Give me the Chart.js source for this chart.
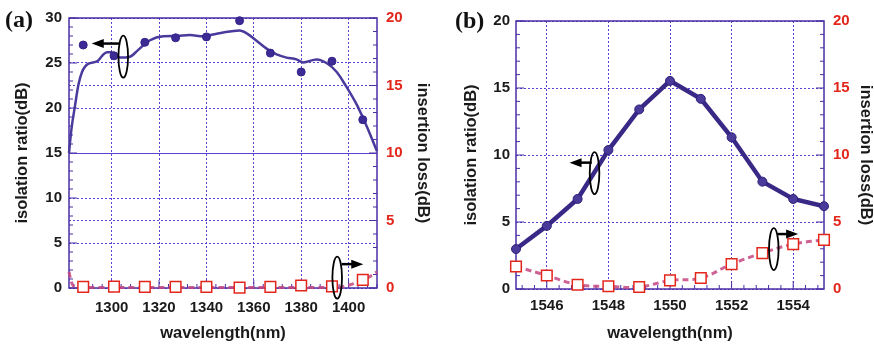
<!DOCTYPE html>
<html>
<head>
<meta charset="utf-8">
<script src="https://cdn.jsdelivr.net/npm/chart.js@4.4.1/dist/chart.umd.min.js"></script>
<style>
  body { margin: 0; background: #fff; width: 874px; height: 346px; position: relative; overflow: hidden; }
  .panel { position: absolute; top: 0; width: 437px; height: 346px; }
  .tag { position: absolute; font: bold 24px "Liberation Serif", "Times New Roman", serif; line-height: 24px; color: #111; }
</style>
</head>
<body>
<div class="panel" style="left:0"><canvas id="chartA" width="437" height="346"></canvas></div>
<div class="panel" style="left:437px"><canvas id="chartB" width="437" height="346"></canvas></div>
<div class="tag" style="left:5px;top:7px">(a)</div>
<div class="tag" style="left:455px;top:8px">(b)</div>
<script>
// ---- panel (a): 1300 nm band ----
const wlA = [1288, 1301, 1314, 1327, 1340, 1354, 1367, 1380, 1393, 1406];
const isoA = [27.0, 25.8, 27.3, 27.8, 27.9, 29.7, 26.1, 24.0, 25.2, 18.7];
const lossA = [0.08, 0.1, 0.08, 0.08, 0.08, 0.03, 0.08, 0.18, 0.12, 0.6];
// fitted isolation curve
const fitWlA = [1282, 1283, 1284.5, 1286, 1287.5, 1290, 1294, 1296, 1298, 1300, 1303.5, 1307.7, 1311, 1316, 1321.8, 1327.4,
  1333, 1338.6, 1344.3, 1350, 1354, 1357, 1361, 1365.4, 1369.6, 1373.8, 1378, 1380.9, 1386.5, 1390.7, 1395, 1399,
  1403.4, 1407.6, 1412];
const fitIsoA = [15, 17.6, 20.2, 22.6, 24.0, 24.9, 25.2, 25.8, 26.2, 26.2, 25.6, 25.7, 26.4, 27.5, 27.97, 28.0,
  28.1, 27.97, 28.26, 28.5, 28.6, 28.3, 27.5, 26.6, 25.95, 25.6, 25.4, 25.06, 25.4, 25.0, 24.0, 22.4,
  20.4, 18.0, 15.2];
// fitted insertion loss curve
const fitLossWlA = [1282, 1283, 1284.5, 1290, 1300, 1320, 1340, 1360, 1380, 1396, 1400, 1405, 1409, 1412];
const fitLossA = [1.2, 0.45, 0.1, 0.04, 0.03, 0.03, 0.03, 0.03, 0.04, 0.06, 0.2, 0.5, 0.85, 1.2];
const xTicksA = [1300, 1320, 1340, 1360, 1380, 1400];
const isoTicksA = [0, 5, 10, 15, 20, 25, 30];
const lossTicks = [0, 5, 10, 15, 20];

// ---- panel (b): 1550 nm band ----
const wlB = [1545, 1546, 1547, 1548, 1549, 1550, 1551, 1552, 1553, 1554, 1555];
const isoB = [2.98, 4.71, 6.72, 10.37, 13.4, 15.53, 14.19, 11.32, 8.01, 6.72, 6.18];
const lossB = [1.68, 1.01, 0.32, 0.2, 0.15, 0.64, 0.82, 1.86, 2.68, 3.35, 3.67];
const xTicksB = [1546, 1548, 1550, 1552, 1554];
const isoTicksB = [0, 5, 10, 15, 20];

// oval + arrow markers telling which axis a curve belongs to
const notesA = [
  { cx: 1304.9, cy: 25.7, tail: 1303.5, tip: 1291.6, ay: 27.16 },
  { cx: 1395.2, cy: 1.15, tail: 1397.1, tip: 1406.2, ay: 2.65 }
];
const notesB = [
  { cx: 1547.55, cy: 8.64, tail: 1547.46, tip: 1546.74, ay: 9.43 },
  { cx: 1553.37, cy: 2.98, tail: 1553.5, tip: 1554.16, ay: 4.1 }
];

const pts = (xs, ys) => xs.map((x, i) => ({ x: x, y: ys[i] }));

const FONT = '"Liberation Sans", Arial, sans-serif';
const PURPLE = '#4a2fa6';
const RED = '#e3261b';

const framePlugin = {
  id: 'frame',
  beforeDatasetsDraw(chart, args, opts) {
    const { ctx, chartArea: a, scales } = chart;
    ctx.save();
    ctx.strokeStyle = PURPLE;
    ctx.lineWidth = 1.5;
    ctx.strokeRect(a.left, a.top, a.right - a.left, a.bottom - a.top);
    // inward tick marks, minor and major
    ctx.lineWidth = 1;
    for (const id in opts.minor) {
      const s = scales[id], step = opts.minor[id];
      const major = s.ticks.map(t => t.value);
      const n0 = Math.ceil(s.min / step - 1e-6), n1 = Math.floor(s.max / step + 1e-6);
      for (let n = n0; n <= n1; n++) {
        const v = n * step;
        const len = major.some(m => Math.abs(m - v) < 1e-6) ? 8 : 4;
        const p = s.getPixelForValue(v);
        ctx.beginPath();
        if (s.position === 'bottom') { ctx.moveTo(p, a.bottom); ctx.lineTo(p, a.bottom - len); }
        else if (s.position === 'left') { ctx.moveTo(a.left, p); ctx.lineTo(a.left + len, p); }
        else { ctx.moveTo(a.right, p); ctx.lineTo(a.right - len, p); }
        ctx.stroke();
      }
    }
    ctx.restore();
  },
  afterDatasetsDraw(chart, args, opts) {
    const { ctx, scales: { x, y } } = chart;
    ctx.save();
    ctx.strokeStyle = '#000';
    ctx.fillStyle = '#000';
    for (const m of opts.notes) {
      const cx = x.getPixelForValue(m.cx), cy = y.getPixelForValue(m.cy);
      ctx.lineWidth = 1.8;
      ctx.beginPath();
      ctx.ellipse(cx, cy, 4.8, 21, 0, 0, Math.PI * 2);
      ctx.stroke();
      const x0 = x.getPixelForValue(m.tail), x1 = x.getPixelForValue(m.tip), ay = y.getPixelForValue(m.ay);
      const d = Math.sign(x1 - x0);
      ctx.lineWidth = 2.5;
      ctx.beginPath();
      ctx.moveTo(x0, ay);
      ctx.lineTo(x1 - d * 10, ay);
      ctx.stroke();
      ctx.beginPath();
      ctx.moveTo(x1, ay);
      ctx.lineTo(x1 - d * 12, ay - 4.5);
      ctx.lineTo(x1 - d * 12, ay + 4.5);
      ctx.closePath();
      ctx.fill();
    }
    ctx.restore();
  }
};

function setTicks(list) {
  return scale => { scale.ticks = list.map(v => ({ value: v })); };
}

function makeScales(c) {
  const tickFont = { family: FONT, size: 15, weight: 'bold' };
  const titleFont = { family: FONT, size: 16.5, weight: 'bold' };
  const grid = { color: '#5b3fd0', lineWidth: 1, drawTicks: false };
  return {
    x: {
      type: 'linear', position: 'bottom', min: c.xMin, max: c.xMax,
      afterBuildTicks: setTicks(c.xTicks),
      afterFit: s => { s.height = c.bottomH; },
      grid: grid,
      border: { display: false, dash: [2, 2] },
      ticks: { font: tickFont, color: '#1a1a1a', padding: c.xPad, maxRotation: 0, callback: v => String(v) },
      title: { display: true, text: 'wavelength(nm)', font: titleFont, color: '#1a1a1a', padding: { top: 0, bottom: 3 } }
    },
    y: {
      type: 'linear', position: 'left', min: 0, max: c.yMax,
      afterBuildTicks: setTicks(c.yTicks),
      afterFit: s => { s.width = c.leftW; },
      grid: grid,
      border: { display: false, dash: ctx => (ctx.tick && ctx.tick.value === c.solidAt) ? [] : [2, 2] },
      ticks: { font: tickFont, color: '#1a1a1a', padding: c.leftPad },
      title: { display: true, text: 'isolation ratio(dB)', font: titleFont, color: '#1a1a1a', padding: { top: c.leftTitle, bottom: 0 } }
    },
    y1: {
      type: 'linear', position: 'right', min: 0, max: 20,
      afterBuildTicks: setTicks(lossTicks),
      afterFit: s => { s.width = c.rightW; },
      grid: grid,
      border: { display: false, dash: [2, 2] },
      ticks: { font: tickFont, color: RED, padding: c.rightPad },
      title: { display: true, text: 'insertion loss(dB)', font: titleFont, color: '#1a1a1a', padding: { top: c.rightTitle, bottom: 0 } }
    }
  };
}

const baseOptions = (scales, top, minor, notes) => ({
  responsive: false,
  animation: false,
  layout: { padding: { top: top, left: 0, right: 0, bottom: 0 } },
  scales: scales,
  plugins: {
    legend: { display: false },
    tooltip: { enabled: false },
    frame: { minor: minor, notes: notes }
  }
});

// (a)
new Chart(document.getElementById('chartA'), {
  type: 'scatter',
  data: {
    datasets: [
      {
        data: pts(wlA, lossA), yAxisID: 'y1', showLine: false, clip: false,
        pointStyle: 'rect', pointRadius: 7.5, pointBorderWidth: 1.5,
        pointBorderColor: RED, pointBackgroundColor: '#fff'
      },
      {
        data: pts(wlA, isoA), yAxisID: 'y', showLine: false, clip: false,
        pointRadius: 4, pointBorderWidth: 1, pointBorderColor: '#33228a', pointBackgroundColor: '#3d2a94'
      },
      {
        data: pts(fitWlA, fitIsoA), yAxisID: 'y', showLine: true, clip: false,
        borderColor: '#4a3a9c', borderWidth: 2.5, pointRadius: 0, cubicInterpolationMode: 'monotone'
      },
      {
        data: pts(fitLossWlA, fitLossA), yAxisID: 'y1', showLine: true, clip: false,
        borderColor: 'rgba(196,70,130,0.85)', borderWidth: 3, borderDash: [6, 4],
        pointRadius: 0, cubicInterpolationMode: 'monotone'
      }
    ]
  },
  options: baseOptions(makeScales({
    xMin: 1282, xMax: 1412, xTicks: xTicksA, yMax: 30, yTicks: isoTicksA, solidAt: 15,
    bottomH: 58, leftW: 69, rightW: 60, xPad: 11, leftPad: 7, rightPad: 9, leftTitle: 13, rightTitle: 5
  }), 16, { x: 4, y: 1, y1: 1 }, notesA),
  plugins: [framePlugin]
});

// (b)
new Chart(document.getElementById('chartB'), {
  type: 'scatter',
  data: {
    datasets: [
      {
        data: pts(wlB, lossB), yAxisID: 'y1', showLine: true, clip: false,
        borderColor: 'rgba(196,70,130,0.85)', borderWidth: 3, borderDash: [6, 4], tension: 0.4,
        pointStyle: 'rect', pointRadius: 7.5, pointBorderWidth: 1.5,
        pointBorderColor: RED, pointBackgroundColor: '#fff'
      },
      {
        data: pts(wlB, isoB), yAxisID: 'y', showLine: true, clip: false,
        borderColor: '#3a2886', borderWidth: 4.5,
        pointRadius: 4.5, pointBorderWidth: 1, pointBorderColor: '#2e1f7a', pointBackgroundColor: '#4a3a9a'
      }
    ]
  },
  options: baseOptions(makeScales({
    xMin: 1545, xMax: 1555, xTicks: xTicksB, yMax: 20, yTicks: isoTicksB, solidAt: null,
    bottomH: 57, leftW: 79, rightW: 50, xPad: 8, leftPad: 6, rightPad: 9, leftTitle: 24.5, rightTitle: -1.5
  }), 21, { x: 0.4, y: 1, y1: 1 }, notesB),
  plugins: [framePlugin]
});
</script>
</body>
</html>
